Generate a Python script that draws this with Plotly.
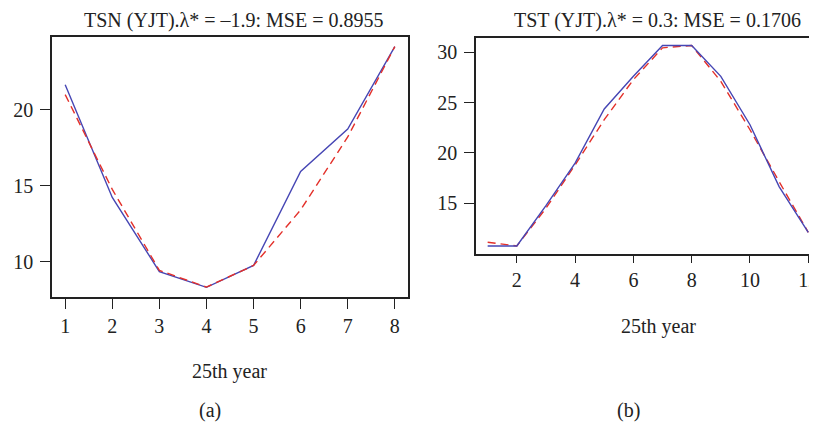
import plotly.graph_objects as go

# page body has an 8px margin -> figure is 809x415 placed at (8, 8) in the 817x423 window
OFF = 8
W, H = 817 - OFF, 423 - OFF

# Panel (a)
years_a = [1, 2, 3, 4, 5, 6, 7, 8]
actual_a = [21.64, 14.22, 9.34, 8.30, 9.74, 15.93, 18.72, 24.15]
fitted_a = [20.99, 14.75, 9.42, 8.32, 9.74, 13.4, 18.2, 24.15]
title_a = "TSN (YJT).λ* = –1.9: MSE = 0.8955"
xticks_a = [1, 2, 3, 4, 5, 6, 7, 8]
yticks_a = [10, 15, 20]

# Panel (b)
years_b = [1, 2, 3, 4, 5, 6, 7, 8, 9, 10, 11, 12]
actual_b = [10.75, 10.75, 14.76, 18.98, 24.36, 27.61, 30.67, 30.67, 27.61, 22.80, 16.65, 12.11]
fitted_b = [11.12, 10.75, 14.5, 18.8, 23.3, 27.28, 30.44, 30.67, 27.11, 22.3, 17.15, 12.11]
title_b = "TST (YJT).λ* = 0.3: MSE = 0.1706"
xticks_b = [2, 4, 6, 8, 10, 12]
yticks_b = [15, 20, 25, 30]

xlabel = "25th year"

BLUE = "#4646b4"
RED = "#e3302a"
FONT = "Liberation Serif"
FS = 20

def px_x(x):
    return (x - OFF) / W

def px_y(y):
    return 1 - (y - OFF) / H

fig = go.Figure()

fig.add_trace(go.Scatter(x=years_a, y=actual_a, mode="lines",
                         line=dict(color=BLUE, width=1.4), xaxis="x", yaxis="y", showlegend=False))
fig.add_trace(go.Scatter(x=years_a, y=fitted_a, mode="lines",
                         line=dict(color=RED, width=1.4, dash="8px,5px"), xaxis="x", yaxis="y", showlegend=False))
fig.add_trace(go.Scatter(x=years_b, y=fitted_b, mode="lines",
                         line=dict(color=RED, width=1.4, dash="8px,5px"), xaxis="x2", yaxis="y2", showlegend=False))
fig.add_trace(go.Scatter(x=years_b, y=actual_b, mode="lines",
                         line=dict(color=BLUE, width=1.4), xaxis="x2", yaxis="y2", showlegend=False))

axis_common = dict(showgrid=False, zeroline=False, showline=True, linecolor="#222", linewidth=1.5,
                   ticks="outside", tickwidth=1.3, tickcolor="#222",
                   tickfont=dict(family=FONT, size=FS, color="#222"))

def r_range(lo, hi):
    pad = (hi - lo) * 0.04
    return [lo - pad, hi + pad]

ya_lo = min(actual_a + fitted_a); ya_hi = max(actual_a + fitted_a)
yb_lo = min(actual_b + fitted_b); yb_hi = max(actual_b + fitted_b)

fig.update_layout(
    xaxis=dict(domain=[px_x(52), px_x(408)], range=r_range(1, 8), tickvals=xticks_a,
               mirror=True, anchor="y", ticklen=10, ticklabelstandoff=0, **axis_common),
    yaxis=dict(domain=[px_y(297), px_y(37)], range=r_range(ya_lo, ya_hi), tickvals=yticks_a,
               mirror=True, anchor="x", ticklen=10, ticklabelstandoff=3, **axis_common),
    xaxis2=dict(domain=[px_x(476), 1.0], range=[0.60, 12.30], tickvals=xticks_b,
                mirror=True, anchor="y2", ticklen=7, ticklabelstandoff=0,
                ticklabeloverflow="allow", **axis_common),
    yaxis2=dict(domain=[px_y(254), px_y(37.5)], range=r_range(yb_lo, yb_hi), tickvals=yticks_b,
                mirror=False, anchor="x2", ticklen=10, ticklabelstandoff=3, **axis_common),
)

ann_font = dict(family=FONT, size=FS, color="#222")
annotations = [
    dict(text=title_a, x=px_x(234), y=px_y(21)),
    dict(text=title_b, x=px_x(657.5), y=px_y(21)),
    dict(text=xlabel, x=px_x(229.5), y=px_y(371)),
    dict(text=xlabel, x=px_x(658), y=px_y(326)),
    dict(text="(a)", x=px_x(210), y=px_y(410)),
    dict(text="(b)", x=px_x(628), y=px_y(410)),
]
fig.update_layout(annotations=[dict(xref="paper", yref="paper", showarrow=False,
                                    xanchor="center", yanchor="middle", font=ann_font, **a)
                               for a in annotations])

fig.update_layout(width=W, height=H, margin=dict(l=0, r=0, t=0, b=0),
                  paper_bgcolor="white", plot_bgcolor="white")

fig.write_html("out.html")
